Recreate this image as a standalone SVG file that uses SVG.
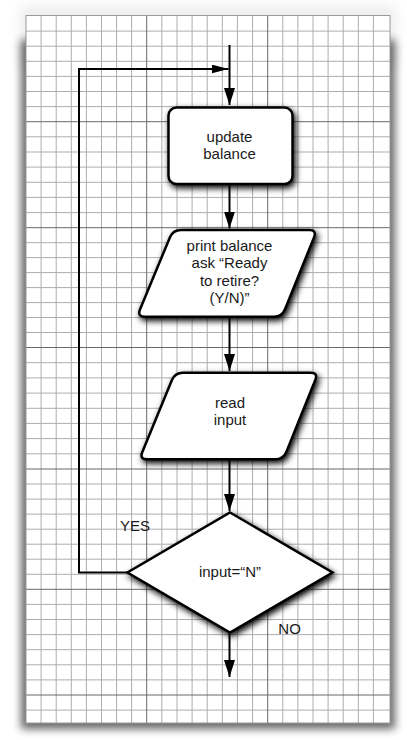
<svg xmlns="http://www.w3.org/2000/svg" width="407" height="740" viewBox="0 0 407 740">
<defs>
<style>
.minor{stroke:#adadad;stroke-width:1;fill:none}
.major{stroke:#696969;stroke-width:1;fill:none}
.shape{fill:#fff;stroke:#000;stroke-width:2.5;filter:url(#nshadow)}
.conn{fill:none;stroke:#000;stroke-width:2}
text{font-family:"Liberation Sans",Arial,Helvetica,sans-serif;font-size:15px;fill:#1a1a1a;text-anchor:middle}
.lbl{text-anchor:start}
</style>
<filter id="pshadow" x="-10%" y="-10%" width="120%" height="120%">
<feGaussianBlur stdDeviation="4.5"/>
</filter>
<filter id="pshadow2" x="-20%" y="-50%" width="140%" height="200%">
<feGaussianBlur stdDeviation="7"/>
</filter>
<filter id="nshadow" x="-30%" y="-30%" width="160%" height="160%">
<feDropShadow dx="2" dy="3" stdDeviation="3" flood-color="#000" flood-opacity="1"/>
</filter>
<marker id="ah" markerUnits="userSpaceOnUse" markerWidth="17" markerHeight="11" refX="17" refY="5.5" orient="auto">
<path d="M0,0 L17,5.5 L0,11 Z" fill="#000"/>
</marker>
<marker id="ahs" markerUnits="userSpaceOnUse" markerWidth="17" markerHeight="9" refX="17" refY="4.5" orient="auto">
<path d="M0,0 L17,4.5 L0,9 Z" fill="#000"/>
</marker>
</defs>

<g id="paper">
<rect x="0" y="0" width="407" height="740" fill="#fff"/>
<rect x="20" y="6" width="376" height="60" fill="#000" opacity="0.07" filter="url(#pshadow2)"/>
<rect x="21" y="40" width="374" height="689" fill="#000" opacity="0.6" filter="url(#pshadow)"/>
<rect x="26" y="15" width="364" height="708" fill="#fff"/>
<path class="minor" d="M41.1,15V723M56.2,15V723M71.3,15V723M86.4,15V723M101.5,15V723M116.6,15V723M131.6,15V723M161.8,15V723M177,15V723M192.1,15V723M207.2,15V723M222.3,15V723M237.4,15V723M252.6,15V723M282.8,15V723M297.9,15V723M313,15V723M328.1,15V723M343.2,15V723M358.3,15V723M373.4,15V723"/>
<path class="minor" d="M26,31.1H390M26,46.2H390M26,61.3H390M26,76.4H390M26,91.5H390M26,106.6H390M26,136.8H390M26,152H390M26,167.1H390M26,182.3H390M26,197.4H390M26,212.6H390M26,242.7H390M26,257.6H390M26,272.6H390M26,287.6H390M26,302.6H390M26,317.5H390M26,332.5H390M26,362.7H390M26,377.9H390M26,393.1H390M26,408.3H390M26,423.4H390M26,438.6H390M26,453.8H390M26,484H390M26,499.1H390M26,514.1H390M26,529.2H390M26,544.2H390M26,559.2H390M26,574.3H390M26,604.4H390M26,619.5H390M26,634.6H390M26,649.7H390M26,664.8H390M26,679.9H390M26,710.1H390"/>
<path class="major" d="M146.7,15V723M267.7,15V723M26,121.7H390M26,227.7H390M26,347.5H390M26,469H390M26,589.3H390M26,695H390"/>
<rect x="26" y="15.5" width="364" height="707.5" fill="none" stroke="#9a9a9a" stroke-width="1"/>
</g>

<g id="connectors">
<path class="conn" d="M229.5,45V105" marker-end="url(#ah)"/>
<path class="conn" d="M127.5,572.5H79V69H228.5" marker-end="url(#ahs)"/>
<path class="conn" d="M229.5,184V228.5" marker-end="url(#ah)"/>
<path class="conn" d="M229.5,316.7V371" marker-end="url(#ah)"/>
<path class="conn" d="M229.5,459.3V511" marker-end="url(#ah)"/>
<path class="conn" d="M229.5,632.5V677" marker-end="url(#ah)"/>
</g>

<g id="update-balance">
<rect class="shape" x="168.5" y="107.5" width="124" height="76.5" rx="8"/>
<text x="229.5" y="141.7">update</text>
<text x="229.5" y="158.5">balance</text>
</g>

<g id="print-balance">
<path class="shape" d="M181,230 H309 Q317,230 314,237.4 L285,309.3 Q282,316.7 274,316.7 H145 Q137,316.7 140.1,309.3 L169.9,237.4 Q173,230 181,230 Z"/>
<text x="229.5" y="250.7">print balance</text>
<text x="229.5" y="268.3">ask “Ready</text>
<text x="229.5" y="285.7">to retire?</text>
<text x="229.5" y="303.3">(Y/N)”</text>
</g>

<g id="read-input">
<path class="shape" d="M183,372.7 H310.3 Q318.3,372.7 315.25,380.1 L286.35,451.9 Q283.3,459.3 275.3,459.3 H147.3 Q139.3,459.3 142.35,451.9 L171.95,380.1 Q175,372.7 183,372.7 Z"/>
<text x="230" y="408.3">read</text>
<text x="230" y="425">input</text>
</g>

<g id="decision">
<path class="shape" d="M230,512.5 L332.5,572.5 L230,632.5 L127.5,572.5 Z" stroke-linejoin="miter"/>
<text x="230" y="577.3">input=“N”</text>
</g>

<g id="labels">
<text class="lbl" x="120" y="531">YES</text>
<text class="lbl" x="278.3" y="634.3">NO</text>
</g>
</svg>
